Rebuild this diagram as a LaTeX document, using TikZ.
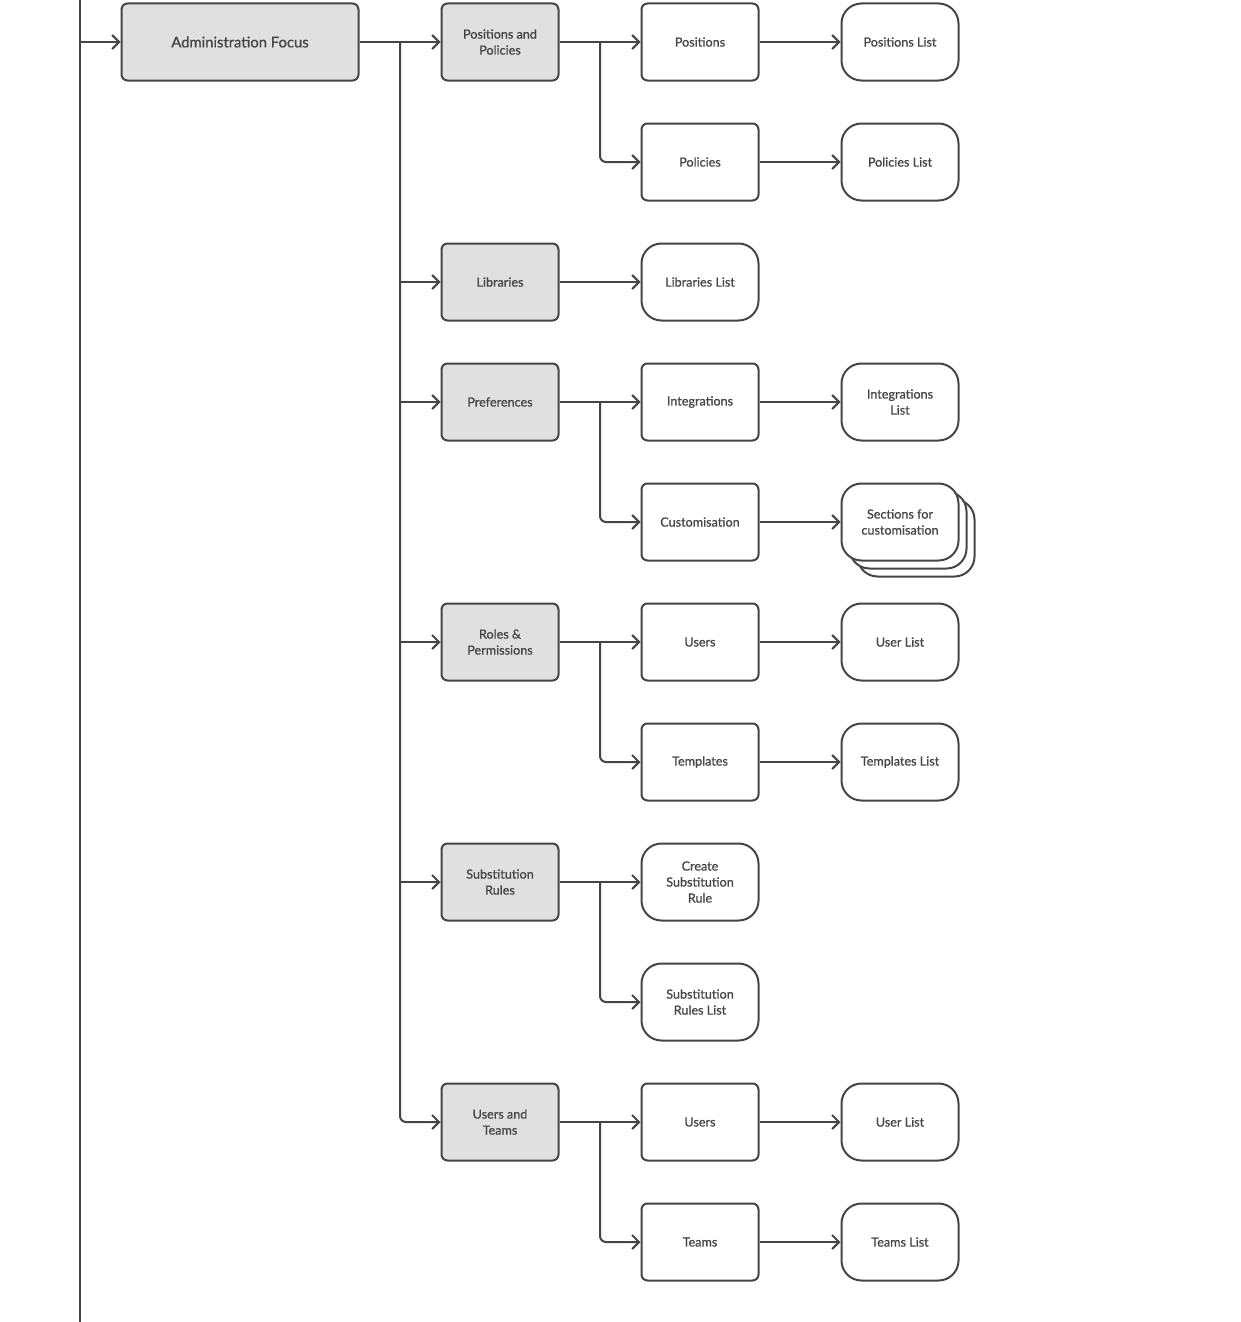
\documentclass[tikz,border=0pt]{standalone}
\usepackage{fontspec}
\setmainfont{Lato}[FakeBold=0.8]
\usetikzlibrary{arrows.meta}
\definecolor{ink}{HTML}{454545}
\definecolor{panel}{HTML}{E0E0E0}
\begin{document}
\begin{tikzpicture}[x=1pt, y=-1pt,
  every node/.style={font=\fontsize{12.6}{16}\selectfont, text=ink, align=center},
  line/.style={draw=ink, line width=2pt},
  arr/.style={line, -{Straight Barb[length=7pt,width=14pt]}},
  group/.style={line, fill=panel, rounded corners=6pt, minimum width=117pt, minimum height=77pt},
  item/.style={line, fill=white, rounded corners=6pt, minimum width=117pt, minimum height=77pt},
  list/.style={item, rounded corners=20pt}]
\useasboundingbox (0,0) rectangle (1240,1322);
% left spine and focus
\draw [line] (80,0) -- (80,1322);
\coordinate (spine) at (80,42);
\node [group, minimum width=237pt, font=\fontsize{14.8}{18}\selectfont] (adm) at (240,42) {Administration Focus};
\draw [arr] (spine) -- (adm.west);
% second level
\node [group] (pp) at (500,42) {Positions and\\Policies};
\node [group] (lib) at (500,282) {Libraries};
\node [group] (pref) at (500,402) {Preferences};
\node [group] (roles) at (500,642) {Roles \&\\Permissions};
\node [group] (subst) at (500,882) {Substitution\\Rules};
\node [group] (ut) at (500,1122) {Users and\\Teams};
\coordinate (trunk) at (400,42);
\draw [arr] (adm.east) -- (pp.west);
\draw [arr, rounded corners=6pt] (trunk) |- (ut.west);
\draw [arr] (trunk |- lib.west) -- (lib.west);
\draw [arr] (trunk |- pref.west) -- (pref.west);
\draw [arr] (trunk |- roles.west) -- (roles.west);
\draw [arr] (trunk |- subst.west) -- (subst.west);
% third level
\node [item] (pos) at (700,42) {Positions};
\node [item] (pol) at (700,162) {Policies};
\node [list] (liblist) at (700,282) {Libraries List};
\node [item] (integ) at (700,402) {Integrations};
\node [item] (cust) at (700,522) {Customisation};
\node [item] (users) at (700,642) {Users};
\node [item] (templ) at (700,762) {Templates};
\node [list] (create) at (700,882) {Create\\Substitution\\Rule};
\node [list] (substlist) at (700,1002) {Substitution\\Rules List};
\node [item] (utusers) at (700,1122) {Users};
\node [item] (teams) at (700,1242) {Teams};
\coordinate (ppfork) at (600,42);
\coordinate (preffork) at (600,402);
\coordinate (rolesfork) at (600,642);
\coordinate (substfork) at (600,882);
\coordinate (utfork) at (600,1122);
\draw [arr] (pp.east) -- (pos.west);
\draw [arr, rounded corners=6pt] (ppfork) |- (pol.west);
\draw [arr] (lib.east) -- (liblist.west);
\draw [arr] (pref.east) -- (integ.west);
\draw [arr, rounded corners=6pt] (preffork) |- (cust.west);
\draw [arr] (roles.east) -- (users.west);
\draw [arr, rounded corners=6pt] (rolesfork) |- (templ.west);
\draw [arr] (subst.east) -- (create.west);
\draw [arr, rounded corners=6pt] (substfork) |- (substlist.west);
\draw [arr] (ut.east) -- (utusers.west);
\draw [arr, rounded corners=6pt] (utfork) |- (teams.west);
% fourth level
\node [list] (poslist) at (900,42) {Positions List};
\node [list] (pollist) at (900,162) {Policies List};
\node [list] (integlist) at (900,402) {Integrations\\List};
\node [list] (sect3) at (916,538) {};
\node [list] (sect2) at (908,530) {};
\node [list] (sect) at (900,522) {Sections for\\customisation};
\node [list] (userlist) at (900,642) {User List};
\node [list] (templlist) at (900,762) {Templates List};
\node [list] (utuserlist) at (900,1122) {User List};
\node [list] (teamslist) at (900,1242) {Teams List};
\draw [arr] (pos.east) -- (poslist.west);
\draw [arr] (pol.east) -- (pollist.west);
\draw [arr] (integ.east) -- (integlist.west);
\draw [arr] (cust.east) -- (sect.west);
\draw [arr] (users.east) -- (userlist.west);
\draw [arr] (templ.east) -- (templlist.west);
\draw [arr] (utusers.east) -- (utuserlist.west);
\draw [arr] (teams.east) -- (teamslist.west);
\end{tikzpicture}
\end{document}
